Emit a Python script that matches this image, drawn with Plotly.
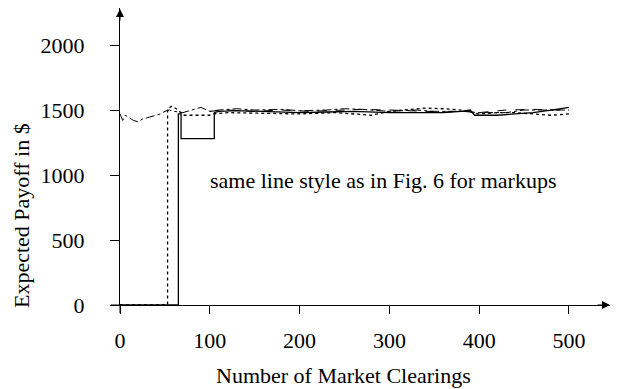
import plotly.graph_objects as go

# Series
solid_x = [0, 65, 65, 68, 68, 105, 105, 110, 130, 150, 170, 200, 230, 260, 300, 330, 360, 380, 390, 395, 420, 440, 460, 480, 500]
solid_y = [0, 0, 1470, 1470, 1280, 1280, 1480, 1490, 1495, 1490, 1485, 1480, 1485, 1490, 1480, 1480, 1480, 1490, 1500, 1460, 1460, 1470, 1480, 1500, 1520]

dotted_x = [0, 53, 53, 58, 65, 70, 80, 100, 105, 120, 160, 200, 240, 280, 300, 320, 340, 360, 380, 400, 420, 440, 460, 480, 500]
dotted_y = [0, 0, 1510, 1530, 1500, 1460, 1460, 1460, 1470, 1480, 1475, 1470, 1480, 1460, 1490, 1505, 1515, 1510, 1500, 1470, 1480, 1480, 1470, 1460, 1470]

dashdot_x = [0, 3, 6, 10, 15, 20, 25, 30, 35, 40, 45, 50, 55, 60, 70, 80, 90, 100, 110, 130, 150, 180, 200, 230, 250, 270, 300, 330, 350, 380, 400, 430, 450, 470, 500]
dashdot_y = [1470, 1420, 1460, 1440, 1420, 1410, 1430, 1440, 1450, 1460, 1470, 1490, 1500, 1490, 1480, 1500, 1520, 1490, 1500, 1510, 1500, 1505, 1495, 1500, 1510, 1505, 1490, 1500, 1490, 1490, 1480, 1480, 1500, 1500, 1500]

dashed_x = [100, 120, 150, 180, 210, 240, 270, 300, 330, 360, 390, 400, 430, 460, 490, 500]
dashed_y = [1490, 1500, 1490, 1500, 1490, 1495, 1505, 1500, 1495, 1485, 1490, 1480, 1500, 1505, 1500, 1505]

x_ticks = [0, 100, 200, 300, 400, 500]
y_ticks = [0, 500, 1000, 1500, 2000]

FONT = "Liberation Serif"
FS = 22
fig = go.Figure()
fig.add_trace(go.Scatter(x=dashed_x, y=dashed_y, mode="lines",
                         line=dict(color="black", width=1, dash="dash"), showlegend=False))
fig.add_trace(go.Scatter(x=dashdot_x, y=dashdot_y, mode="lines",
                         line=dict(color="black", width=1, dash="dashdot"), showlegend=False))
fig.add_trace(go.Scatter(x=dotted_x, y=dotted_y, mode="lines",
                         line=dict(color="black", width=1.3, dash="dot"), showlegend=False))
fig.add_trace(go.Scatter(x=solid_x, y=solid_y, mode="lines",
                         line=dict(color="black", width=1.3), showlegend=False))

# page has an 8px body margin: figure occupies page 8..629 x 8..389
fig.update_layout(
    width=621, height=381,
    margin=dict(l=112, r=19, t=0, b=84, autoexpand=False),
    paper_bgcolor="white", plot_bgcolor="white",
    font=dict(family=FONT, size=FS, color="black"),
    xaxis=dict(range=[0, 545.7], tickvals=x_ticks, ticktext=[str(v) for v in x_ticks],
               showgrid=False, zeroline=False, showline=True, linecolor="black", linewidth=1,
               ticks="outside", ticklen=8, tickcolor="black", tickwidth=1, automargin=False,
               ticklabelstandoff=8, tickfont=dict(family=FONT, size=FS)),
    yaxis=dict(range=[0, 2285], tickvals=y_ticks, ticktext=[str(v) for v in y_ticks],
               showgrid=False, zeroline=False, showline=True, linecolor="black", linewidth=1,
               ticks="outside", ticklen=9, tickcolor="black", tickwidth=1, automargin=False,
               ticklabelstandoff=21, tickfont=dict(family=FONT, size=FS)),
    shapes=[
        dict(type="line", xref="paper", yref="paper", x0=-9/490, x1=0, y0=0, y1=0,
             line=dict(color="black", width=1)),
        dict(type="line", xref="paper", yref="paper", x0=0, x1=0, y0=-8/297, y1=0,
             line=dict(color="black", width=1)),
    ],
    annotations=[
        dict(xref="paper", yref="paper", x=0, y=1, ax=0, ay=14, axref="pixel", ayref="pixel",
             text="", showarrow=True, arrowhead=2, arrowsize=1.6, arrowwidth=1, arrowcolor="black", standoff=0),
        dict(xref="paper", yref="paper", x=1, y=0, ax=-14, ay=0, axref="pixel", ayref="pixel",
             text="", showarrow=True, arrowhead=2, arrowsize=1.6, arrowwidth=1, arrowcolor="black", standoff=0),
        dict(xref="x", yref="y", x=293, y=955, text="same line style as in Fig. 6 for markups",
             xanchor="center", yanchor="middle",
             showarrow=False, font=dict(family=FONT, size=FS)),
        dict(xref="paper", yref="paper", x=223/490, y=-70/297, text="Number of Market Clearings",
             xanchor="center", yanchor="middle",
             showarrow=False, font=dict(family=FONT, size=FS)),
        dict(xref="paper", yref="paper", x=-98/490, y=(305-216)/297, text="Expected Payoff in $",
             xanchor="center", yanchor="middle",
             textangle=-90, showarrow=False, font=dict(family=FONT, size=FS)),
    ],
)

fig.write_html("out.html")
